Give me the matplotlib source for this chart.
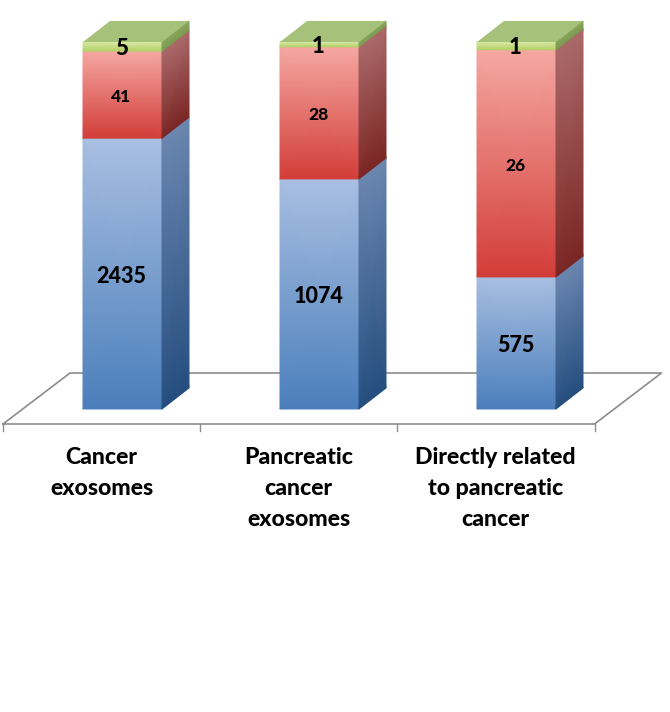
import matplotlib
matplotlib.use('Agg')
import matplotlib.pyplot as plt
from matplotlib.colors import LinearSegmentedColormap

plt.rcParams['font.family'] = ['Lato', 'DejaVu Sans']

categories = ['Cancer\nexosomes', 'Pancreatic\ncancer\nexosomes', 'Directly related\nto pancreatic\ncancer']
# labels printed on the bars
blue_labels = ['2435', '1074', '575']
red_labels = ['41', '28', '26']
green_labels = ['5', '1', '1']
# drawn height of each segment, share of the stack in percent
blue_share = [73.8, 62.7, 36.0]
red_share = [23.7, 36.0, 61.9]
green_share = [2.5, 1.3, 2.1]

# (front top, front middle, front bottom, side top, side bottom)
blue_colors = ['#a9bfe2', '#7d9fd2', '#4a7ebb', '#6b87b0', '#254e7f']
red_colors = ['#f5a8a2', '#ea7a75', '#d23c38', '#ab6a6a', '#7a2624']
green_colors = ['#d9e9a8', '#c6dd86', '#b2d063', '#8aa65e', '#7c9a50']
top_color = '#a6c179'
floor_color = '#8c8c8c'

PX_X = 1 / 197      # one pixel in category units
PX_Y = 100 / 367    # one pixel in percent
bar_w = 79 * PX_X
depth_x = 27 * PX_X
depth_y = 21 * PX_Y

fig = plt.figure(figsize=(6.7, 7.12), dpi=100)
ax = fig.add_axes([0, 0, 1, 1])
ax.set_xlim(-122.5 * PX_X, (670 - 122.5) * PX_X)
ax.set_ylim(-(712 - 409) * PX_Y, 409 * PX_Y)
ax.axis('off')


def shaded(xs, y_low, y_high, colors):
    # quad with a vertical gradient, y_low/y_high are the edges at each x
    cmap = LinearSegmentedColormap.from_list('seg', colors)
    ax.pcolormesh([xs, xs], [y_low, y_high], [[0, 0], [1, 1]], cmap=cmap,
                  shading='gouraud', vmin=0, vmax=1, zorder=3)


# floor
floor_front = -15 * PX_Y
floor_back = 36 * PX_Y
fl = (3 - 122.5) * PX_X
fr = (594.5 - 122.5) * PX_X
bx = 67 * PX_X
ax.plot([fl, fr, fr + bx, fl + bx, fl], [floor_front, floor_front, floor_back, floor_back, floor_front],
        color=floor_color, lw=1.2, zorder=1)
for i in range(4):
    tx = fl + i * (fr - fl) / 3
    ax.plot([tx, tx], [floor_front, floor_front - 7 * PX_Y], color=floor_color, lw=1, zorder=1)

# bars
for i in range(len(categories)):
    left = i - bar_w / 2
    right = i + bar_w / 2
    bottom = 0
    stack = [(blue_share[i], blue_colors, blue_labels[i], 15.5, -3),
             (red_share[i], red_colors, red_labels[i], 12.5, -2.5),
             (green_share[i], green_colors, green_labels[i], 16, -2)]
    for share, cols, label, size, shift in stack:
        top = bottom + share
        shaded([left, right], [bottom, bottom], [top, top], [(0, cols[2]), (0.3, cols[1]), (1, cols[0])])
        shaded([right, right + depth_x], [bottom, bottom + depth_y], [top, top + depth_y], [cols[4], cols[3]])
        ax.text(i - 1 * PX_X, bottom + share / 2 + shift * PX_Y, label, ha='center', va='center',
                fontsize=size, fontweight='black', color='black', zorder=5)
        bottom = top
    ax.fill([left, right, right + depth_x, left + depth_x],
            [bottom, bottom, bottom + depth_y, bottom + depth_y], color=top_color, lw=0, zorder=4)

    # category label, one text per line
    for k, line in enumerate(categories[i].split('\n')):
        ax.text(i - 21 * PX_X, (409 - 457 - 31 * k) * PX_Y, line, ha='center', va='center',
                fontsize=16.6, fontweight='black', color='black')

fig.savefig('out.png', dpi=100)
